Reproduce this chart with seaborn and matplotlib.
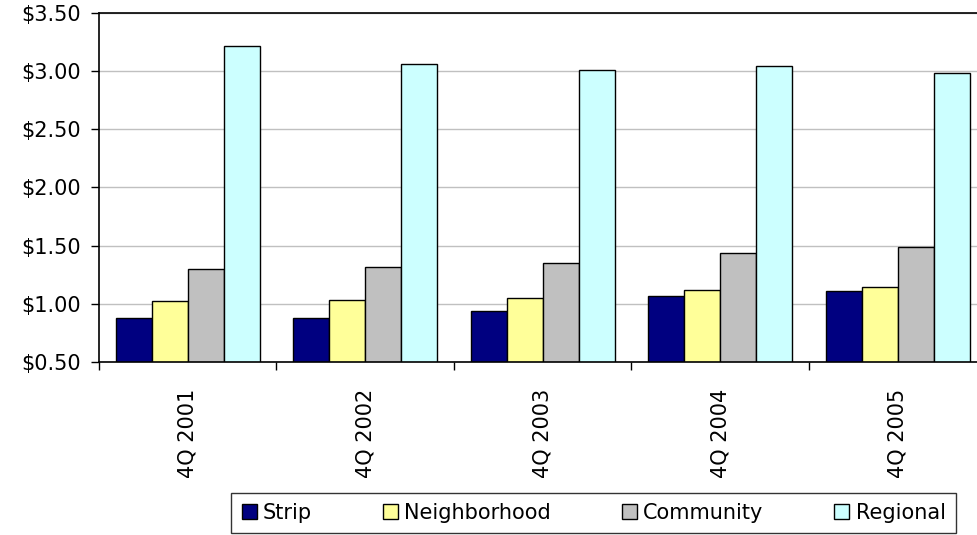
import pandas as pd
import numpy as np
import seaborn as sns
import matplotlib.pyplot as plt
from matplotlib.ticker import FuncFormatter, FixedLocator

quarters = ['4Q 2001', '4Q 2002', '4Q 2003', '4Q 2004', '4Q 2005']
series = ['Strip', 'Neighborhood', 'Community', 'Regional']
strip = [0.88, 0.88, 0.94, 1.07, 1.11]
neighborhood = [1.02, 1.03, 1.05, 1.12, 1.14]
community = [1.30, 1.32, 1.35, 1.44, 1.49]
regional = [3.21, 3.06, 3.01, 3.04, 2.98]
colors = ['#000080', '#FFFF99', '#C0C0C0', '#CCFFFF']

df = pd.DataFrame({'Quarter': quarters, 'Strip': strip, 'Neighborhood': neighborhood,
                   'Community': community, 'Regional': regional})
long_df = df.melt(id_vars='Quarter', var_name='Type', value_name='Rent')

sns.set_style('white')
plt.rcParams['font.family'] = ['DejaVu Sans']
plt.rcParams['text.color'] = 'black'
plt.rcParams['xtick.color'] = 'black'
plt.rcParams['ytick.color'] = 'black'

fig = plt.figure(figsize=(9.78, 5.35), dpi=100)
ax = fig.add_axes([0.1012, 0.3234, 0.9075, 0.6529])

sns.barplot(data=long_df, x='Quarter', y='Rent', hue='Type', hue_order=series,
            palette=colors, width=0.81, gap=0, edgecolor='black', linewidth=1,
            saturation=1, ax=ax, legend=True)

ax.set_ylim(0.5, 3.5)
ax.set_xlim(-0.5, 4.5)
ax.set_yticks(np.arange(0.5, 3.51, 0.5))
ax.yaxis.set_major_formatter(FuncFormatter(lambda v, p: f'${v:.2f}'))
ax.yaxis.grid(True, color='#c0c0c0', linewidth=1)
ax.set_axisbelow(True)
ax.set_xlabel('')
ax.set_ylabel('')

# ticks between categories, labels centred on categories
ax.xaxis.set_major_locator(FixedLocator(np.arange(-0.5, 5, 1)))
ax.xaxis.set_major_formatter(FuncFormatter(lambda v, p: ''))
ax.set_xticks(range(5), quarters, minor=True)
ax.tick_params(axis='x', which='major', direction='out', length=6, width=1, bottom=True)
ax.tick_params(axis='x', which='minor', length=0, labelsize=15, rotation=90, pad=19)
ax.tick_params(axis='y', direction='out', length=6, width=1, left=True, labelsize=15, pad=7)

for s in ax.spines.values():
    s.set_color('black')
    s.set_linewidth(1.2)

ax.get_legend().remove()
handles, labels = ax.get_legend_handles_labels()
leg = fig.legend(handles, labels, loc='center', bbox_to_anchor=(0.607, 0.041), ncol=4,
                 frameon=True, fancybox=False, edgecolor='black', fontsize=15,
                 handlelength=0.72, handleheight=0.72, handletextpad=0.3, columnspacing=3.4,
                 borderpad=0.5, borderaxespad=0)
leg.get_frame().set_linewidth(1)

fig.savefig('out.png', dpi=100)
